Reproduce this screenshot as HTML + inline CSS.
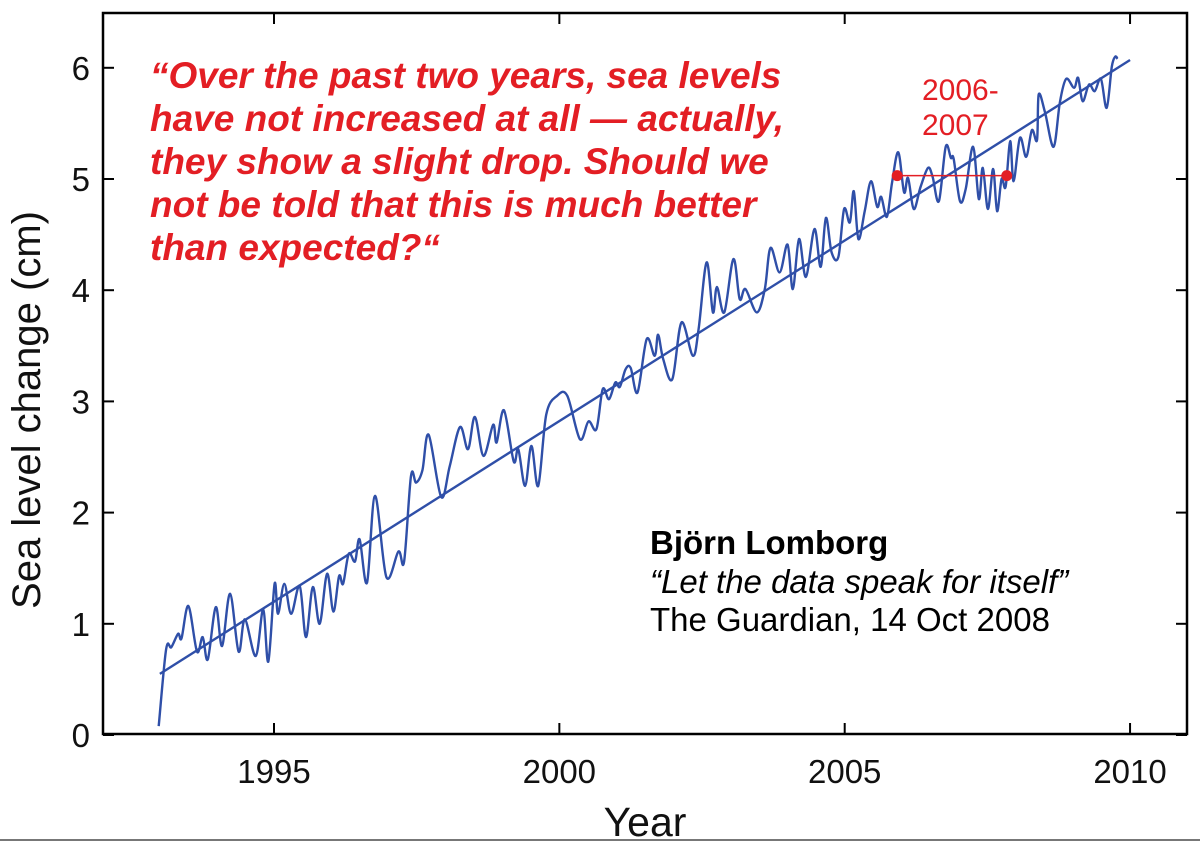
<!DOCTYPE html>
<html><head><meta charset="utf-8"><style>
html,body{margin:0;padding:0;background:#fff;}
svg{display:block;font-family:"Liberation Sans",Arial,sans-serif;}
</style></head><body>
<svg id="chart" width="1200" height="841" viewBox="0 0 1200 841" xmlns="http://www.w3.org/2000/svg">
<rect x="0" y="0" width="1200" height="841" fill="#fff"/>
<line x1="0" y1="840" x2="1200" y2="840" stroke="#777" stroke-width="2"/>
<g id="plot"></g>
<rect x="103" y="13" width="1084" height="721" fill="none" stroke="#000" stroke-width="2.5"/>
<g id="ticks"></g>
<text x="645" y="836" font-size="41" text-anchor="middle" fill="#111">Year</text>
<text transform="translate(40,410) rotate(-90)" font-size="40" text-anchor="middle" fill="#111">Sea level change (cm)</text>
<g fill="#e31e24" font-size="37" font-weight="bold" font-style="italic">
<text x="150" y="88">“Over the past two years, sea levels</text>
<text x="150" y="131">have not increased at all — actually,</text>
<text x="150" y="174">they show a slight drop. Should we</text>
<text x="150" y="217">not be told that this is much better</text>
<text x="150" y="260">than expected?“</text>
</g>
<g fill="#e31e24" font-size="30">
<text x="922" y="100">2006-</text>
<text x="922" y="135">2007</text>
</g>
<g fill="#000" font-size="33">
<text x="650" y="554" font-weight="bold">Björn Lomborg</text>
<text x="650" y="593" font-style="italic">“Let the data speak for itself”</text>
<text x="650" y="631">The Guardian, 14 Oct 2008</text>
</g>
</svg>
<script>
const years = [1992.98,1993.11,1993.2,1993.32,1993.38,1993.5,1993.65,1993.75,1993.84,1993.98,1994.09,1994.23,1994.38,1994.49,1994.68,1994.81,1994.9,1995.01,1995.07,1995.18,1995.3,1995.45,1995.56,1995.68,1995.8,1995.93,1996.04,1996.14,1996.21,1996.31,1996.42,1996.5,1996.63,1996.77,1996.97,1997.18,1997.28,1997.4,1997.49,1997.6,1997.71,1997.93,1998.08,1998.26,1998.4,1998.52,1998.67,1998.84,1998.9,1999.03,1999.2,1999.28,1999.4,1999.51,1999.63,1999.77,1999.96,2000.14,2000.36,2000.51,2000.65,2000.76,2000.87,2000.98,2001.06,2001.16,2001.25,2001.37,2001.53,2001.67,2001.73,2001.82,2001.98,2002.14,2002.34,2002.44,2002.58,2002.69,2002.76,2002.89,2003.05,2003.16,2003.26,2003.46,2003.6,2003.7,2003.86,2004.0,2004.09,2004.2,2004.32,2004.47,2004.58,2004.67,2004.77,2004.89,2004.99,2005.09,2005.16,2005.24,2005.35,2005.46,2005.57,2005.64,2005.74,2005.83,2005.94,2006.04,2006.11,2006.21,2006.33,2006.46,2006.54,2006.65,2006.77,2006.86,2006.91,2007.02,2007.12,2007.25,2007.35,2007.42,2007.51,2007.6,2007.67,2007.75,2007.82,2007.9,2007.96,2008.07,2008.18,2008.28,2008.37,2008.4,2008.51,2008.66,2008.77,2008.88,2009.02,2009.09,2009.17,2009.28,2009.38,2009.49,2009.59,2009.68,2009.74,2009.78];
const seaLevel = [0.08,0.77,0.79,0.91,0.87,1.16,0.75,0.88,0.68,1.15,0.80,1.27,0.75,1.04,0.71,1.13,0.66,1.36,1.09,1.36,1.09,1.34,0.88,1.33,1.0,1.45,1.11,1.43,1.36,1.63,1.56,1.76,1.37,2.15,1.42,1.65,1.56,2.33,2.27,2.38,2.70,2.14,2.42,2.77,2.57,2.86,2.51,2.79,2.63,2.92,2.46,2.57,2.24,2.60,2.24,2.88,3.05,3.05,2.66,2.82,2.75,3.11,3.02,3.17,3.13,3.29,3.30,3.08,3.56,3.41,3.60,3.38,3.20,3.71,3.41,3.65,4.25,3.80,4.03,3.80,4.28,3.92,4.01,3.80,4.01,4.38,4.16,4.41,4.01,4.46,4.12,4.55,4.21,4.65,4.34,4.30,4.73,4.61,4.89,4.46,4.71,4.98,4.75,4.84,4.66,4.97,5.24,4.88,5.01,4.73,4.93,5.10,5.02,4.80,5.29,5.19,5.18,4.80,4.91,5.29,4.82,5.10,4.73,5.09,4.71,5.00,4.93,5.34,4.98,5.37,5.20,5.44,5.35,5.76,5.60,5.29,5.69,5.90,5.82,5.91,5.70,5.85,5.79,5.90,5.64,6.01,6.10,6.08];
const trendYears = [1993, 2010];
const trendValues = [0.55, 6.07];
const markerYears = [2005.92, 2007.84];
const markerValues = [5.03, 5.03];
const xTicks = [1995, 2000, 2005, 2010];
const yTicks = [0, 1, 2, 3, 4, 5, 6];

const NS = "http://www.w3.org/2000/svg";
const X = y => 274 + (y - 1995) * 57.07;
const Y = v => 735 - v * 111.2;
function mk(tag, attrs, parent) {
  const e = document.createElementNS(NS, tag);
  for (const k in attrs) e.setAttribute(k, attrs[k]);
  parent.appendChild(e);
  return e;
}
const plot = document.getElementById('plot');
const ticks = document.getElementById('ticks');

const pts = years.map((y, i) => [X(y), Y(seaLevel[i])]);
let d = `M${pts[0][0].toFixed(1)},${pts[0][1].toFixed(1)}`;
for (let i = 0; i < pts.length - 1; i++) {
  const p0 = pts[Math.max(i - 1, 0)], p1 = pts[i], p2 = pts[i + 1], p3 = pts[Math.min(i + 2, pts.length - 1)];
  const c1 = [p1[0] + (p2[0] - p0[0]) / 6, p1[1] + (p2[1] - p0[1]) / 6];
  const c2 = [p2[0] - (p3[0] - p1[0]) / 6, p2[1] - (p3[1] - p1[1]) / 6];
  d += ` C${c1[0].toFixed(1)},${c1[1].toFixed(1)} ${c2[0].toFixed(1)},${c2[1].toFixed(1)} ${p2[0].toFixed(1)},${p2[1].toFixed(1)}`;
}
const line = mk('path', {d: d, fill: 'none', stroke: '#2f4fa8', 'stroke-width': 2.4}, plot);



const trend = mk('line', {x1: X(trendYears[0]), y1: Y(trendValues[0]), x2: X(trendYears[1]), y2: Y(trendValues[1]), stroke: '#2f4fa8', 'stroke-width': 2.4}, plot);



const seg = mk('line', {x1: X(markerYears[0]), y1: Y(markerValues[0]), x2: X(markerYears[1]), y2: Y(markerValues[1]), stroke: '#e31e24', 'stroke-width': 1.5}, plot);


markerYears.forEach((y, i) => {
  const c = mk('circle', {cx: X(y), cy: Y(markerValues[i]), r: 5.5, fill: '#e31e24'}, plot);
  
  
});

xTicks.forEach(t => {
  const x = X(t);
  const a = mk('line', {x1: x, y1: 734, x2: x, y2: 723, stroke: '#000', 'stroke-width': 2}, ticks);
  
  
  const b = mk('line', {x1: x, y1: 13, x2: x, y2: 24, stroke: '#000', 'stroke-width': 2}, ticks);
  
  
  const tx = mk('text', {x: x, y: 783, 'font-size': 33, 'text-anchor': 'middle', fill: '#111'}, ticks);
  tx.textContent = t;
  
  
});
yTicks.forEach(t => {
  const y = Y(t);
  const a = mk('line', {x1: 103, y1: y, x2: 114, y2: y, stroke: '#000', 'stroke-width': 2}, ticks);
  
  
  const b = mk('line', {x1: 1187, y1: y, x2: 1176, y2: y, stroke: '#000', 'stroke-width': 2}, ticks);
  
  
  const tx = mk('text', {x: 90, y: y + 12, 'font-size': 33, 'text-anchor': 'end', fill: '#111'}, ticks);
  tx.textContent = t;
  
  
});
</script>
</body></html>
